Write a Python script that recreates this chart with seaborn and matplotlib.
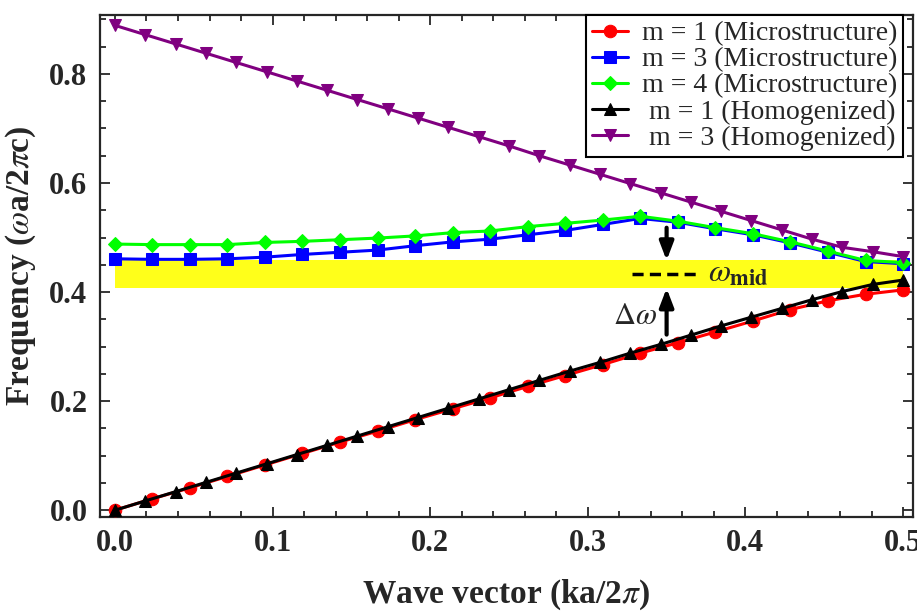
import numpy as np
import pandas as pd
import matplotlib
matplotlib.use("Agg")
import matplotlib.pyplot as plt
from matplotlib.ticker import MultipleLocator
import seaborn as sns

# ---- data ----
# microstructure bands: 22 k-points
k_micro = [0.0, 0.0238, 0.0476, 0.0714, 0.0952, 0.1190, 0.1429, 0.1667,
           0.1905, 0.2143, 0.2381, 0.2619, 0.2857, 0.3095, 0.3333, 0.3571,
           0.3810, 0.4048, 0.4286, 0.4524, 0.4762, 0.5]
m1_micro = [0.0, 0.021, 0.041, 0.062, 0.083, 0.104, 0.125, 0.145,
            0.166, 0.186, 0.206, 0.227, 0.247, 0.267, 0.288, 0.307,
            0.327, 0.347, 0.368, 0.384, 0.396, 0.404]
m3_micro = [0.461, 0.460, 0.460, 0.461, 0.464, 0.469, 0.473, 0.477,
            0.485, 0.492, 0.497, 0.505, 0.513, 0.524, 0.535, 0.528,
            0.516, 0.505, 0.490, 0.473, 0.456, 0.452]
m4_micro = [0.488, 0.487, 0.487, 0.487, 0.491, 0.493, 0.496, 0.499,
            0.503, 0.509, 0.512, 0.520, 0.526, 0.532, 0.539, 0.530,
            0.518, 0.507, 0.492, 0.475, 0.458, 0.454]

# homogenized bands: 27 k-points
k_homog = [0.0, 0.0192, 0.0385, 0.0577, 0.0769, 0.0962, 0.1154, 0.1346,
           0.1538, 0.1731, 0.1923, 0.2115, 0.2308, 0.25, 0.2692, 0.2885,
           0.3077, 0.3269, 0.3462, 0.3654, 0.3846, 0.4038, 0.4231, 0.4423,
           0.4615, 0.4808, 0.5]
m1_homog = [0.0, 0.017, 0.034, 0.051, 0.068, 0.085, 0.102, 0.119,
            0.136, 0.153, 0.170, 0.187, 0.204, 0.221, 0.238, 0.255,
            0.271, 0.288, 0.304, 0.321, 0.338, 0.354, 0.370, 0.386,
            0.401, 0.414, 0.422]
m3_homog = [0.889, 0.872, 0.855, 0.838, 0.821, 0.804, 0.787, 0.770,
            0.753, 0.736, 0.719, 0.702, 0.685, 0.668, 0.650, 0.633,
            0.616, 0.599, 0.582, 0.565, 0.548, 0.531, 0.514, 0.497,
            0.482, 0.474, 0.465]

# band gap
gap_bottom = 0.407
gap_top = 0.458
gap_mid = 0.4325

series = [
    (k_micro, m1_micro, "m = 1 (Microstructure)", "#ff0000", "o", 9),
    (k_micro, m3_micro, "m = 3 (Microstructure)", "#0000ff", "s", 8),
    (k_micro, m4_micro, "m = 4 (Microstructure)", "#00ff00", "D", 7),
    (k_homog, m1_homog, " m = 1 (Homogenized)", "#000000", "^", 8),
    (k_homog, m3_homog, " m = 3 (Homogenized)", "#800080", "v", 8),
]

sns.set_style("ticks")
plt.rcParams["font.family"] = ["Liberation Serif", "DejaVu Serif"]
plt.rcParams["mathtext.fontset"] = "stix"

fig = plt.figure(figsize=(9.17, 6.13), dpi=100)
ax = fig.add_axes([0.109, 0.157, 0.8866, 0.8185])

# yellow gap band
ax.fill_between([0.0, 0.5], gap_bottom, gap_top, color="#ffff1a", lw=0, zorder=1)

for k, w, lab, col, mk, ms in series:
    df = pd.DataFrame({"k": k, "w": w})
    sns.lineplot(data=df, x="k", y="w", ax=ax, color=col, marker=mk,
                 markersize=ms, markeredgecolor=col, linewidth=2.2,
                 label=lab, zorder=3)

# gap annotations
arrow_kw = dict(arrowstyle="-|>,head_length=1.1,head_width=0.42",
                color="black", lw=3, shrinkA=0, shrinkB=0)
ax.annotate("", xy=(0.35, gap_top), xytext=(0.35, 0.518), arrowprops=arrow_kw, zorder=4)
ax.annotate("", xy=(0.35, gap_bottom), xytext=(0.35, 0.322), arrowprops=arrow_kw, zorder=4)
ax.plot([0.328, 0.369], [gap_mid, gap_mid], color="black", lw=2.5,
        linestyle=(0, (3.2, 1.8)), zorder=4)
ax.text(0.376, gap_mid, r"$\omega_{\mathbf{mid}}$", fontsize=23,
        va="center", ha="left", zorder=4)
ax.text(0.344, 0.355, r"$\Delta\omega$", fontsize=22,
        va="center", ha="right", zorder=4)

ax.set_xlim(-0.0095, 0.5063)
ax.set_ylim(-0.012, 0.908)
ax.xaxis.set_major_locator(MultipleLocator(0.1))
ax.xaxis.set_minor_locator(MultipleLocator(0.02))
ax.yaxis.set_major_locator(MultipleLocator(0.2))
ax.yaxis.set_minor_locator(MultipleLocator(0.05))
ax.xaxis.set_major_formatter(plt.FormatStrFormatter("%.1f"))
ax.yaxis.set_major_formatter(plt.FormatStrFormatter("%.1f"))
ax.tick_params(which="both", direction="in", top=True, right=True, width=1.3)
ax.tick_params(which="major", length=7, labelsize=22, pad=9)
ax.tick_params(which="minor", length=4.5)
for t in ax.get_xticklabels() + ax.get_yticklabels():
    t.set_fontweight("bold")
for s in ax.spines.values():
    s.set_linewidth(1.6)

ax.set_xlabel(r"Wave vector (ka/2$\pi$)", fontsize=24, fontweight="bold", labelpad=14)
ax.set_ylabel(r"Frequency ($\omega$a/2$\pi$c)", fontsize=24, fontweight="bold", labelpad=8)

leg = ax.legend(loc="upper right", bbox_to_anchor=(0.988, 1.0), borderaxespad=0,
                fontsize=20, frameon=True, fancybox=False, framealpha=1,
                edgecolor="black", handlelength=1.3, handletextpad=0.5,
                labelspacing=0.02, borderpad=0.22)
leg.get_frame().set_linewidth(1.5)

fig.savefig("out.png", dpi=100)
